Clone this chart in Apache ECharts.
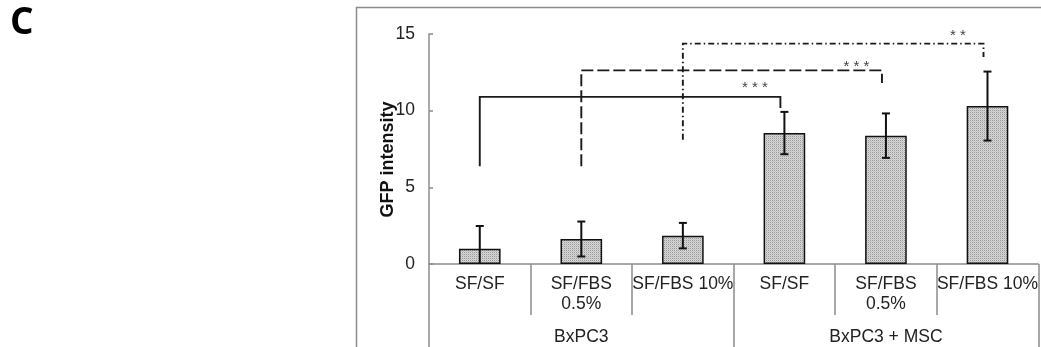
<!DOCTYPE html>
<html>
<head>
<meta charset="utf-8">
<script src="https://cdn.jsdelivr.net/npm/echarts@6/dist/echarts.min.js"></script>
<style>
html,body{margin:0;padding:0;background:#fff;}
#chart{width:1041px;height:347px;}
</style>
</head>
<body>
<div id="chart"></div>
<script>
// ---- data ----
const categories = ['SF/SF', 'SF/FBS\n0.5%', 'SF/FBS 10%', 'SF/SF', 'SF/FBS\n0.5%', 'SF/FBS 10%'];
const groups = ['BxPC3', 'BxPC3 + MSC'];
const gfpMean = [1.0, 1.63, 1.85, 8.54, 8.37, 10.3];
const gfpError = [1.48, 1.14, 0.83, 1.38, 1.45, 2.25];
const yTicks = [0, 5, 10, 15];
// significance brackets
const bracketFrom = [0, 1, 2];
const bracketTo = [3, 4, 5];
const bracketLeftBase = [6.37, 6.37, 8.1];
const bracketTop = [10.9, 12.63, 14.37];
const bracketRightBase = [10.18, 11.8, 13.5];
const bracketLabelLevel = [11.7, 13.06, 15.09];
const bracketStars = ['* * *', '* * *', '* *'];
const bracketStyle = ['solid', 'dashed', 'dashdot'];

// ---- styles ----
const dashMap = { solid: null, dashed: [12, 4], dashdot: [6, 3, 1.5, 3] };
const patternCanvas = document.createElement('canvas');
patternCanvas.width = 2; patternCanvas.height = 2;
(function () {
  const c = patternCanvas.getContext('2d');
  c.fillStyle = '#d6d6d6'; c.fillRect(0, 0, 2, 2);
  c.fillStyle = '#9a9a9a'; c.fillRect(0, 0, 1, 1);
  c.fillStyle = '#c4c4c4'; c.fillRect(1, 1, 1, 1);
})();

const chart = echarts.init(document.getElementById('chart'), null, { renderer: 'canvas' });
const FONT = '"Liberation Sans", Arial, sans-serif';

const errData = gfpMean.map((v, i) => [i, v, gfpError[i]]);
const bracketData = bracketFrom.map((f, i) => [f, bracketTo[i], bracketLeftBase[i], bracketTop[i], bracketRightBase[i], bracketLabelLevel[i], i]);

const option = {
  animation: false,
  backgroundColor: '#fff',
  grid: { left: 429, right: 2, top: 34, bottom: 83, containLabel: false },
  xAxis: [
    {
      type: 'category', data: categories, position: 'bottom',
      axisLine: { show: true, lineStyle: { color: '#8c8c8c', width: 1.5 } },
      axisTick: { show: true, interval: 0, length: 51, lineStyle: { color: '#8c8c8c', width: 1.5 } },
      axisLabel: { interval: 0, margin: 10, color: '#222', fontFamily: FONT, fontSize: 17.5, lineHeight: 20 },
      splitLine: { show: false }
    },
    {
      type: 'category', data: groups, position: 'bottom', offset: 0,
      axisLine: { show: false },
      axisTick: { show: true, interval: 0, length: 83, lineStyle: { color: '#8c8c8c', width: 1.5 } },
      axisLabel: { interval: 0, margin: 64, color: '#222', fontFamily: FONT, fontSize: 17.5 },
      splitLine: { show: false }
    }
  ],
  yAxis: {
    type: 'value', min: yTicks[0], max: yTicks[yTicks.length - 1], interval: yTicks[1] - yTicks[0],
    axisLine: { show: true, lineStyle: { color: '#8c8c8c', width: 1.5 } },
    axisTick: { show: true, inside: true, length: 4, lineStyle: { color: '#8c8c8c', width: 1.5 } },
    axisLabel: { margin: 14, color: '#222', fontFamily: FONT, fontSize: 17.5 },
    splitLine: { show: false }
  },
  graphic: [
    { type: 'rect', z: -10, shape: { x: 356.5, y: 7.5, width: 720, height: 400 },
      style: { fill: 'none', stroke: '#8c8c8c', lineWidth: 1.5 } },
    { type: 'text', x: 388, y: 159.5, rotation: Math.PI / 2,
      style: { text: 'GFP intensity', fill: '#111', font: 'bold 18px ' + FONT, align: 'center', verticalAlign: 'middle' } },
    { type: 'text', x: 10, y: 5,
      style: { text: 'C', fill: '#000', font: 'bold 37px "Open Sans", sans-serif', align: 'left', verticalAlign: 'top' } }
  ],
  series: [
    {
      type: 'bar', xAxisIndex: 0, data: gfpMean, barWidth: '41%',
      itemStyle: { color: { image: patternCanvas, repeat: 'repeat' }, borderColor: '#111', borderWidth: 1.5 }
    },
    {
      type: 'custom', xAxisIndex: 0, clip: true, z: 5,
      data: errData,
      renderItem: function (params, api) {
        const x = api.value(0), v = api.value(1), e = api.value(2);
        const hi = api.coord([x, v + e]);
        const lo = api.coord([x, v - e]);
        const cw = 4;
        const st = { stroke: '#111', lineWidth: 2 };
        return {
          type: 'group',
          children: [
            { type: 'line', shape: { x1: hi[0], y1: hi[1], x2: lo[0], y2: lo[1] }, style: st },
            { type: 'line', shape: { x1: hi[0] - cw, y1: hi[1], x2: hi[0] + cw, y2: hi[1] }, style: st },
            { type: 'line', shape: { x1: lo[0] - cw, y1: lo[1], x2: lo[0] + cw, y2: lo[1] }, style: st }
          ]
        };
      }
    },
    {
      type: 'custom', xAxisIndex: 0, clip: false, z: 6,
      data: bracketData,
      renderItem: function (params, api) {
        const f = api.value(0), t = api.value(1);
        const lb = api.value(2), top = api.value(3), rb = api.value(4), ll = api.value(5);
        const idx = api.value(6);
        const catW = api.size([1, 0])[0];
        const p1 = api.coord([f, lb]);
        const p2 = api.coord([f, top]);
        const p3 = api.coord([t, top]);
        const p4 = api.coord([t, rb]);
        const rx = p3[0] - 4;
        const lab = api.coord([t, ll]);
        return {
          type: 'group',
          children: [
            { type: 'polyline', shape: { points: [[p1[0], p1[1]], [p2[0], p2[1]], [rx, p3[1]], [rx, p4[1]]] },
              style: { stroke: '#1a1a1a', lineWidth: 1.9, fill: 'none', lineDash: dashMap[bracketStyle[idx]] } },
            { type: 'text', style: { text: bracketStars[idx], x: lab[0] - catW * 0.29, y: lab[1] + 3,
              fill: '#444', font: '15px ' + FONT, align: 'center', verticalAlign: 'middle' } }
          ]
        };
      }
    }
  ]
};
chart.setOption(option);
</script>
</body>
</html>
